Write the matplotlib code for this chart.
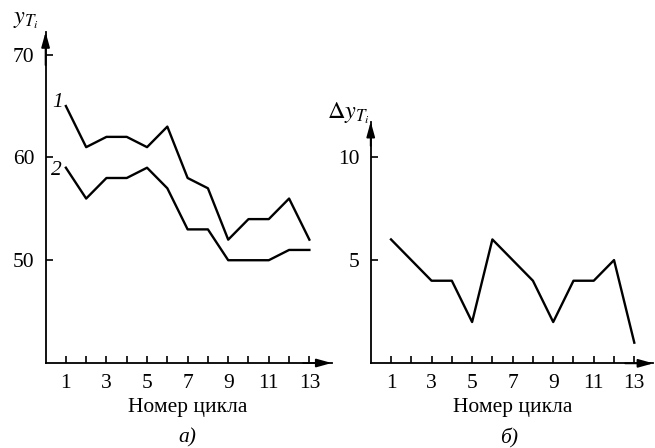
import matplotlib
matplotlib.use("Agg")
import matplotlib.pyplot as plt
import matplotlib.transforms as mtransforms

plt.rcParams["font.family"] = ["Liberation Serif", "DejaVu Serif"]
plt.rcParams["mathtext.fontset"] = "stix"
plt.rcParams["font.size"] = 15.5

cycles = list(range(1, 14))
y1 = [65, 61, 62, 62, 61, 63, 58, 57, 52, 54, 54, 56, 52]
y2 = [59, 56, 58, 58, 59, 57, 53, 53, 50, 50, 50, 51, 51]
dy = [6, 5, 4, 4, 2, 6, 5, 4, 2, 4, 4, 5, 1]
xticklabels = [str(i) if i % 2 == 1 else "" for i in cycles]

fig = plt.figure(figsize=(6.55, 4.48), dpi=100)
ax1 = fig.add_axes([0.0696, 0.1897, 0.4368, 0.7388])
ax2 = fig.add_axes([0.566, 0.189, 0.4315, 0.5393])


def style(ax, xmax, ymin, ymax, yticks):
    ax.set_xlim(0, xmax)
    ax.set_ylim(ymin, ymax)
    for s in ["top", "right"]:
        ax.spines[s].set_visible(False)
    for s in ["left", "bottom"]:
        ax.spines[s].set_linewidth(1.3)
    ax.set_xticks(cycles)
    ax.set_xticklabels(xticklabels)
    ax.set_yticks(yticks)
    ax.tick_params(axis="both", direction="in", length=5, width=1.2, colors="black")
    ax.tick_params(axis="x", pad=8)
    ax.tick_params(axis="y", pad=8)
    ax.patch.set_alpha(0)
    # arrow heads on the axes
    ax.annotate("", xy=(1, 0), xytext=(0.9, 0), xycoords="axes fraction",
                arrowprops=dict(arrowstyle="-|>,head_length=0.9,head_width=0.25",
                                color="black", lw=1.3, shrinkA=0, shrinkB=0,
                                mutation_scale=10))
    ax.annotate("", xy=(0, 1), xytext=(0, 0.9), xycoords="axes fraction",
                arrowprops=dict(arrowstyle="-|>,head_length=0.9,head_width=0.25",
                                color="black", lw=1.3, shrinkA=0, shrinkB=0,
                                mutation_scale=10))
    tr = mtransforms.blended_transform_factory(ax.transData, fig.transFigure)
    ax.text(7, 0.0893, "Номер цикла", transform=tr, ha="center", va="center")
    return tr


tr1 = style(ax1, 14.1, 40, 72.2, [50, 60, 70])
ax1.plot(cycles, y1, color="black", lw=1.7)
ax1.plot(cycles, y2, color="black", lw=1.7)
ax1.text(0.6, 65.3, "1", style="italic", ha="center", va="center")
ax1.text(0.55, 58.7, "2", style="italic", ha="center", va="center")
ax1.text(7, 0.022, "а)", transform=tr1, style="italic", ha="center", va="center")

tr2 = style(ax2, 13.94, 0, 11.7, [5, 10])
ax2.plot(cycles, dy, color="black", lw=1.7)
ax2.text(6.8, 0.022, "б)", transform=tr2, style="italic", ha="center", va="center")

fig.text(0.04, 0.955, r"$y_{T_i}$", ha="center", va="center", fontsize=17.5)
fig.text(0.532, 0.748, r"$\Delta y_{T_i}$", ha="center", va="center", fontsize=17.5)

fig.savefig("out.png", dpi=100)
